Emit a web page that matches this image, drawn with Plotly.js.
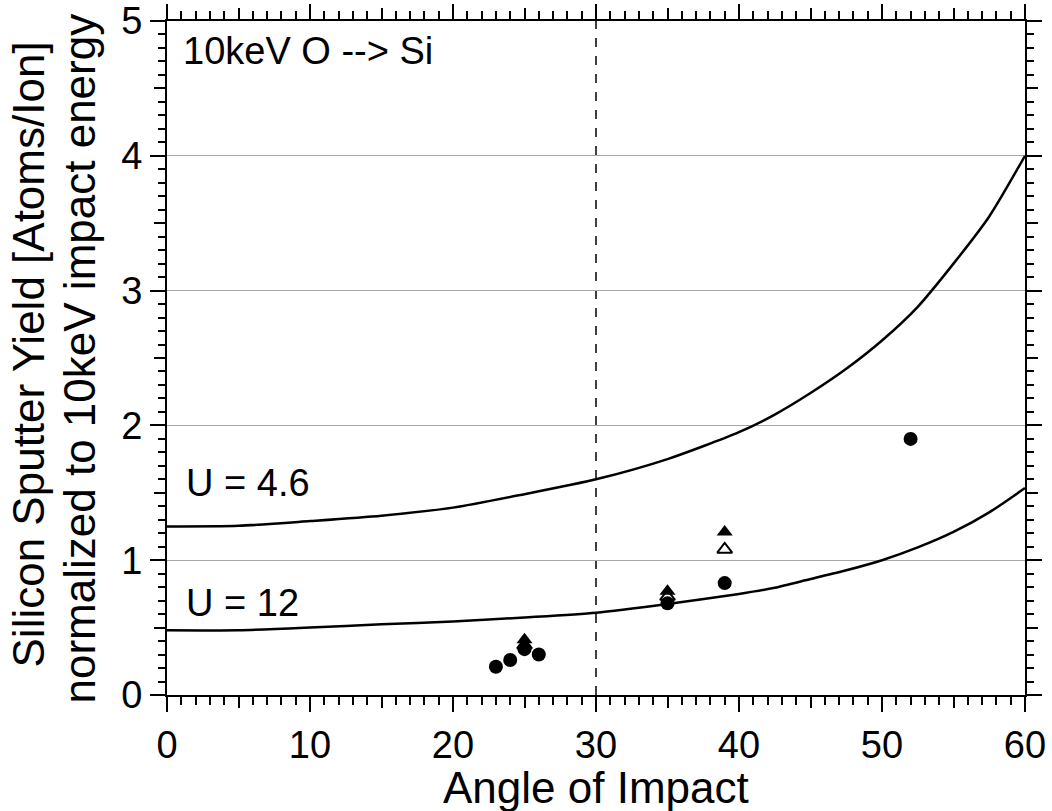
<!DOCTYPE html>
<html>
<head>
<meta charset="utf-8">
<script src="https://cdn.plot.ly/plotly-3.0.1.min.js"></script>
<style>html,body{margin:0;padding:0;background:#fff;}#chart{width:1052px;height:811px;}</style>
</head>
<body>
<div id="chart"></div>
<script>
// U = 4.6 model curve
const u46Angle = [0, 5, 10, 15, 20, 25, 30, 35, 40, 42.5, 45, 47.5, 50, 52.5, 55, 57.5, 60];
const u46Yield = [1.25, 1.255, 1.29, 1.33, 1.39, 1.49, 1.60, 1.75, 1.95, 2.08, 2.24, 2.42, 2.63, 2.88, 3.20, 3.55, 4.0];
// U = 12 model curve
const u12Angle = [0, 5, 10, 15, 20, 25, 30, 35, 40, 42.5, 45, 47.5, 50, 52.5, 55, 57.5, 60];
const u12Yield = [0.48, 0.48, 0.50, 0.525, 0.545, 0.575, 0.61, 0.675, 0.75, 0.795, 0.86, 0.925, 1.0, 1.095, 1.21, 1.355, 1.535];
// measured points
const circAngle = [23, 24, 25, 26, 35, 39, 52];
const circYield = [0.21, 0.26, 0.34, 0.30, 0.68, 0.83, 1.90];
const triFilledAngle = [25, 35, 39];
const triFilledYield = [0.41, 0.77, 1.21];
const triOpenAngle = [25, 35, 39];
const triOpenYield = [0.37, 0.73, 1.08];
const xMidTicks = [5, 15, 25, 35, 45, 55];
const yMidTicks = [0.5, 1.5, 2.5, 3.5, 4.5];

const FONT = "Liberation Sans, Arial, sans-serif";

const traces = [
  {x: u46Angle, y: u46Yield, mode: 'lines', line: {color: '#000', width: 2.5, shape: 'spline', smoothing: 0.7}, hoverinfo: 'skip', showlegend: false},
  {x: u12Angle, y: u12Yield, mode: 'lines', line: {color: '#000', width: 2.5, shape: 'spline', smoothing: 0.7}, hoverinfo: 'skip', showlegend: false},
  {x: triOpenAngle, y: triOpenYield, mode: 'markers', marker: {symbol: 'triangle-up', size: 13, color: '#fff', line: {color: '#000', width: 2}}, showlegend: false},
  {x: triFilledAngle, y: triFilledYield, mode: 'markers', marker: {symbol: 'triangle-up', size: 14, color: '#000'}, showlegend: false},
  {x: circAngle, y: circYield, mode: 'markers', marker: {symbol: 'circle', size: 14, color: '#000'}, showlegend: false},
  {x: [0], y: [0], xaxis: 'x2', yaxis: 'y2', mode: 'markers', marker: {opacity: 0}, hoverinfo: 'skip', showlegend: false}
];

const layout = {
  width: 1052, height: 811,
  margin: {l: 167, r: 27, t: 21, b: 116},
  paper_bgcolor: '#fff', plot_bgcolor: '#fff',
  font: {family: FONT, color: '#000', size: 38},
  showlegend: false,
  xaxis: {
    range: [0, 60], tickmode: 'linear', tick0: 0, dtick: 10,
    ticks: 'outside', ticklen: 15, tickwidth: 2, tickcolor: '#000',
    minor: {tickmode: 'linear', tick0: 0, dtick: 1, ticks: 'outside', ticklen: 8, tickwidth: 2, tickcolor: '#000', showgrid: false},
    showline: true, linecolor: '#000', linewidth: 2, mirror: 'ticks',
    showgrid: false, zeroline: false,
    tickfont: {family: FONT, size: 38, color: '#000'}
  },
  yaxis: {
    range: [0, 5], tickmode: 'linear', tick0: 0, dtick: 1,
    ticks: 'outside', ticklen: 15, tickwidth: 2, tickcolor: '#000',
    minor: {tickmode: 'linear', tick0: 0, dtick: 0.1, ticks: 'outside', ticklen: 7, tickwidth: 2, tickcolor: '#000', showgrid: false},
    showline: true, linecolor: '#000', linewidth: 2, mirror: 'ticks',
    showgrid: true, gridcolor: '#a8a8a8', gridwidth: 1, zeroline: false,
    tickfont: {family: FONT, size: 38, color: '#000'}
  },
  xaxis2: {
    overlaying: 'x', anchor: 'y2', range: [0, 60], tickmode: 'array', tickvals: xMidTicks,
    ticks: 'outside', ticklen: 11, tickwidth: 2, tickcolor: '#000',
    showticklabels: false, showline: true, linecolor: '#000', linewidth: 2, showgrid: false, zeroline: false, mirror: 'ticks'
  },
  yaxis2: {
    overlaying: 'y', anchor: 'x2', side: 'left', range: [0, 5], tickmode: 'array', tickvals: yMidTicks,
    ticks: 'outside', ticklen: 11, tickwidth: 2, tickcolor: '#000',
    showticklabels: false, showline: true, linecolor: '#000', linewidth: 2, showgrid: false, zeroline: false, mirror: 'ticks'
  },
  shapes: [
    {type: 'line', xref: 'x', yref: 'y', x0: 30, x1: 30, y0: 0, y1: 5, line: {color: '#000', width: 1.5, dash: 'dash'}, layer: 'below'}
  ],
  annotations: [
    {text: '10keV O --> Si', xref: 'x', yref: 'y', x: 1.0, y: 4.78, xanchor: 'left', yanchor: 'middle', showarrow: false, font: {family: FONT, size: 38, color: '#000'}},
    {text: 'U = 4.6', xref: 'x', yref: 'y', x: 1.2, y: 1.57, xanchor: 'left', yanchor: 'middle', showarrow: false, font: {family: FONT, size: 38, color: '#000'}},
    {text: 'U = 12', xref: 'x', yref: 'y', x: 1.2, y: 0.68, xanchor: 'left', yanchor: 'middle', showarrow: false, font: {family: FONT, size: 38, color: '#000'}},
    {text: 'Angle of Impact', xref: 'paper', yref: 'paper', x: 0.5, y: -0.1365, xanchor: 'center', yanchor: 'middle', showarrow: false, font: {family: FONT, size: 44, color: '#000'}},
    {text: 'Silicon Sputter Yield [Atoms/Ion]', xref: 'paper', yref: 'paper', x: -0.161, y: 0.505, xanchor: 'center', yanchor: 'middle', textangle: -90, showarrow: false, font: {family: FONT, size: 44, color: '#000'}},
    {text: 'normalized to 10keV impact energy', xref: 'paper', yref: 'paper', x: -0.102, y: 0.5, xanchor: 'center', yanchor: 'middle', textangle: -90, showarrow: false, font: {family: FONT, size: 44, color: '#000'}}
  ]
};

Plotly.newPlot('chart', traces, layout, {displayModeBar: false, staticPlot: true});
</script>
</body>
</html>
